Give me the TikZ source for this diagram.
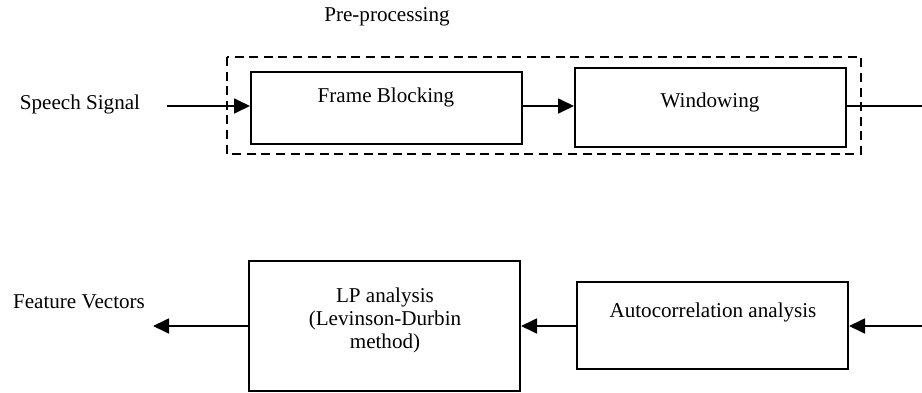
\documentclass[tikz,border=0pt]{standalone}
\usepackage{fontspec}
\setmainfont{Liberation Serif}
\usetikzlibrary{arrows.meta}
\begin{document}
\begin{tikzpicture}[x=0.5pt,y=-0.5pt,
  box/.style={draw,line width=1pt,minimum width=135.5pt,inner sep=0pt},
  txt/.style={font=\fontsize{10.55}{11.5}\selectfont,inner sep=0pt,align=center},
  arr/.style={line width=0.9pt,-{Triangle[length=8pt,width=7.5pt]}},
  ln/.style={line width=0.9pt}]
\useasboundingbox (0,0) rectangle (922,392);
\node[txt] (pre) at (387,17) {Pre-processing};
\draw[line width=0.9pt,dash pattern=on 4.5pt off 2.8pt] (227,57) rectangle (861,154);
\node[box,minimum height=36pt] (fb) at (386.5,108) {};
\node[box,minimum height=39.5pt] (win) at (710.5,107.5) {};
\node[txt] (fbt) at (386,97) {Frame Blocking};
\node[txt] (wint) at (710,102) {Windowing};
\node[txt] (ss) at (80,104) {Speech Signal};
\coordinate (s) at (167,106);
\coordinate (e1) at (922,106);
\draw[arr] (s) -- (s -| fb.west);
\draw[arr] (fb.east |- s) -- (win.west |- s);
\draw[ln] (win.east |- s) -- (e1);
\node[box,minimum height=65pt] (lp) at (384.5,325.5) {};
\node[box,minimum height=43.5pt] (ac) at (712.5,325.5) {};
\node[txt] (lpt) at (385,320) {LP analysis\\(Levinson-Durbin\\method)};
\node[txt] (act) at (713,312) {Autocorrelation analysis};
\node[txt] (fv) at (79,302) {Feature Vectors};
\coordinate (e2) at (922,326);
\coordinate (f) at (153,326);
\draw[arr] (e2) -- (ac.east |- e2);
\draw[arr] (ac.west |- e2) -- (lp.east |- e2);
\draw[arr] (lp.west |- e2) -- (f);
\end{tikzpicture}
\end{document}
